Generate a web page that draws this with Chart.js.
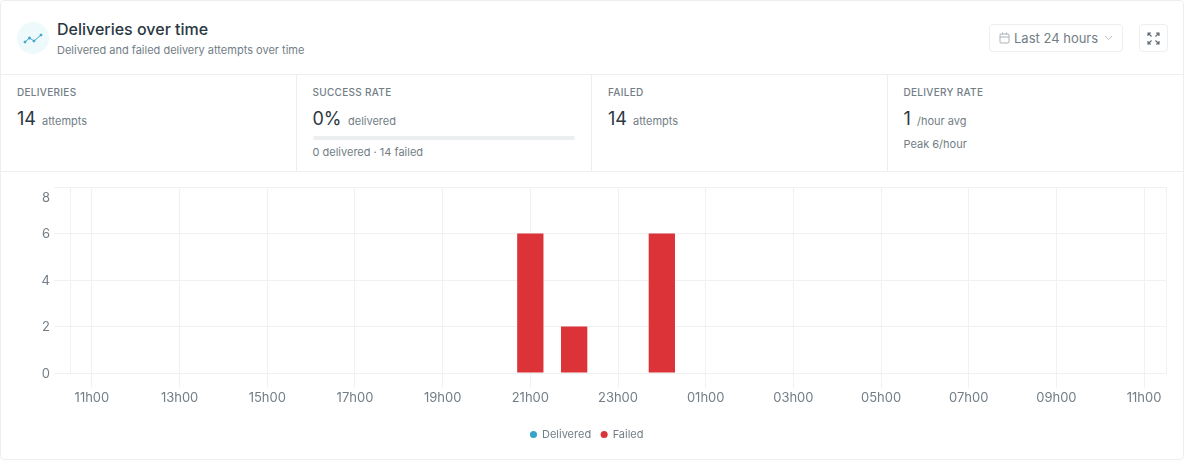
<!DOCTYPE html>
<html>
<head>
<meta charset="utf-8">
<script src="https://cdn.jsdelivr.net/npm/chart.js@4"></script>
<style>
  * { box-sizing: border-box; }
  html, body { margin: 0; padding: 0; background: #fff; }
  body { width: 1184px; height: 460px; position: relative; overflow: hidden; font-family: Inter, sans-serif; color: #727d85; }
  .card { position: absolute; left: 0; top: 0; width: 1184px; height: 460px; border: 1px solid #eceff0; border-radius: 4px; }
  .abs { position: absolute; white-space: nowrap; }
  .icon { left: 17px; top: 22px; width: 32px; height: 32px; border-radius: 50%; background: #eef9fc; }
  .title { left: 57px; top: 19px; font-size: 16px; line-height: 20px; font-weight: 500; color: #2b3842; }
  .sub { left: 57px; top: 43px; font-size: 11px; line-height: 14px; color: #727d85; }
  .btn { border: 1px solid #eceff0; border-radius: 4px; background: #fff; }
  .range { left: 989px; top: 24px; width: 134px; height: 28px; }
  .rangeText { left: 1014px; top: 30px; font-size: 13px; line-height: 16px; color: #727d85; }
  .expand { left: 1139px; top: 24px; width: 29px; height: 28px; }
  .hline { left: 0; width: 1184px; height: 1px; background: #eceff0; }
  .vline { top: 75px; width: 1px; height: 96px; background: #eceff0; }
  .label { top: 86px; font-size: 10px; line-height: 13px; font-weight: 500; letter-spacing: 0.3px; color: #727d85; }
  .value { top: 107px; font-size: 18px; line-height: 24px; font-weight: 400; color: #2b3842; }
  .unit { top: 114px; font-size: 11px; line-height: 14px; color: #727d85; }
  .note { top: 145px; font-size: 11px; line-height: 14px; color: #727d85; }
  .bar { left: 313px; top: 136px; width: 262px; height: 4px; border-radius: 2px; background: #eceff0; }
  #chartBox { position: absolute; left: 0; top: 172px; width: 1184px; height: 287px; }
</style>
</head>
<body>
<div class="card"></div>

<div class="abs icon">
  <svg width="32" height="32" viewBox="0 0 32 32" fill="none" stroke="#3aa5cb" stroke-width="1">
    <polyline points="8,20 12.5,16 17,19 24,13"/>
    <circle cx="8" cy="20" r="1" fill="#3aa5cb"/><circle cx="12.5" cy="16" r="1" fill="#3aa5cb"/>
    <circle cx="17" cy="19" r="1" fill="#3aa5cb"/><circle cx="24" cy="13" r="1" fill="#3aa5cb"/>
  </svg>
</div>
<div class="abs title">Deliveries over time</div>
<div class="abs sub">Delivered and failed delivery attempts over time</div>

<div class="abs btn range"></div>
<svg class="abs" style="left:999px;top:32px" width="11" height="12" viewBox="0 0 11 12" fill="none" stroke="#a9b2b8" stroke-width="1">
  <rect x="1" y="2" width="9" height="9" rx="1"/><path d="M1 5H10M3.5 0.5V2.5M7.5 0.5V2.5"/>
</svg>
<div class="abs rangeText">Last 24 hours</div>
<svg class="abs" style="left:1104px;top:35px" width="9" height="6" viewBox="0 0 9 6" fill="none" stroke="#b5bdc2" stroke-width="1">
  <path d="M1 1L4.5 4.5L8 1"/>
</svg>
<div class="abs btn expand"></div>
<svg class="abs" style="left:1147px;top:32px" width="13" height="13" viewBox="0 0 13 13" fill="none" stroke="#5a6770" stroke-width="1.1">
  <path d="M1 4V1H4M1 1L4.5 4.5M9 1H12V4M12 1L8.5 4.5M1 9V12H4M1 12L4.5 8.5M9 12H12V9M12 12L8.5 8.5"/>
</svg>

<div class="abs hline" style="top:74px"></div>
<div class="abs hline" style="top:171px"></div>
<div class="abs vline" style="left:296px"></div>
<div class="abs vline" style="left:591px"></div>
<div class="abs vline" style="left:887px"></div>

<div class="abs label" style="left:17px">DELIVERIES</div>
<div class="abs value" style="left:17px">14</div>
<div class="abs unit" style="left:42px">attempts</div>

<div class="abs label" style="left:312.5px">SUCCESS RATE</div>
<div class="abs value" style="left:312.5px">0%</div>
<div class="abs unit" style="left:348px">delivered</div>
<div class="abs bar"></div>
<div class="abs note" style="left:312.5px">0 delivered · 14 failed</div>

<div class="abs label" style="left:608px">FAILED</div>
<div class="abs value" style="left:608px">14</div>
<div class="abs unit" style="left:633px">attempts</div>

<div class="abs label" style="left:903.5px">DELIVERY RATE</div>
<div class="abs value" style="left:903.5px">1</div>
<div class="abs unit" style="left:917px">/hour avg</div>
<div class="abs note" style="left:903.5px;top:137px">Peak 6/hour</div>

<div id="chartBox"><canvas id="chart"></canvas></div>

<script>
const hours = ["11h00","12h00","13h00","14h00","15h00","16h00","17h00","18h00","19h00","20h00","21h00","22h00","23h00","00h00","01h00","02h00","03h00","04h00","05h00","06h00","07h00","08h00","09h00","10h00","11h00"];
const delivered = [0,0,0,0,0,0,0,0,0,0,0,0,0,0,0,0,0,0,0,0,0,0,0,0,0];
const failed = [0,0,0,0,0,0,0,0,0,0,6,2,0,6,0,0,0,0,0,0,0,0,0,0,0];
const gridColor = "#eff1f3";
const textColor = "#727d85";
const yMax = 8;

// closes the plot on the right like the original
const rightEdge = {
  id: "rightEdge",
  beforeDatasetsDraw(chart) {
    const { ctx, chartArea } = chart;
    ctx.save();
    ctx.strokeStyle = gridColor;
    ctx.lineWidth = 1;
    ctx.beginPath();
    ctx.moveTo(chartArea.right + 0.5, chartArea.top);
    ctx.lineTo(chartArea.right + 0.5, chartArea.bottom);
    ctx.stroke();
    ctx.restore();
  },
};

Chart.defaults.font.family = "Inter, sans-serif";

new Chart(document.getElementById("chart"), {
  type: "bar",
  data: {
    labels: hours,
    datasets: [
      { label: "Delivered", data: delivered, backgroundColor: "#38a3c9", borderColor: "#38a3c9" },
      { label: "Failed", data: failed, backgroundColor: "#dc3339", borderColor: "#dc3339" },
    ],
  },
  options: {
    responsive: true,
    maintainAspectRatio: false,
    animation: false,
    barPercentage: 0.6,
    categoryPercentage: 1,
    layout: { padding: { left: 8, right: 18, top: 15, bottom: 9 } },
    scales: {
      x: {
        stacked: true,
        afterFit(scale) { scale.height = 46; },
        grid: { color: gridColor, tickLength: 15, offset: false },
        border: { color: gridColor },
        ticks: { color: textColor, font: { size: 13 }, padding: 2, maxRotation: 0, autoSkip: true, maxTicksLimit: 13 },
      },
      y: {
        stacked: true,
        min: 0,
        max: yMax,
        afterFit(scale) { scale.width = 62; scale.paddingTop = 0; },
        grid: { color: gridColor, tickLength: 16 },
        border: { color: gridColor },
        ticks: {
          color: textColor,
          stepSize: 2,
          padding: 4,
          autoSkip: false,
          labelOffset: 1,
          // the top label sits below its grid line in the original
          font: (c) => ({ size: 13, lineHeight: c.tick && c.tick.value === yMax ? "20px" : "16px" }),
          callback: (v) => (v === yMax ? ["", String(v)] : String(v)),
        },
      },
    },
    plugins: {
      tooltip: { enabled: false },
      legend: {
        position: "bottom",
        labels: { usePointStyle: true, pointStyle: "circle", boxWidth: 6, boxHeight: 5, color: textColor, font: { size: 11 }, padding: 10 },
      },
    },
  },
  plugins: [rightEdge],
});
</script>
</body>
</html>
